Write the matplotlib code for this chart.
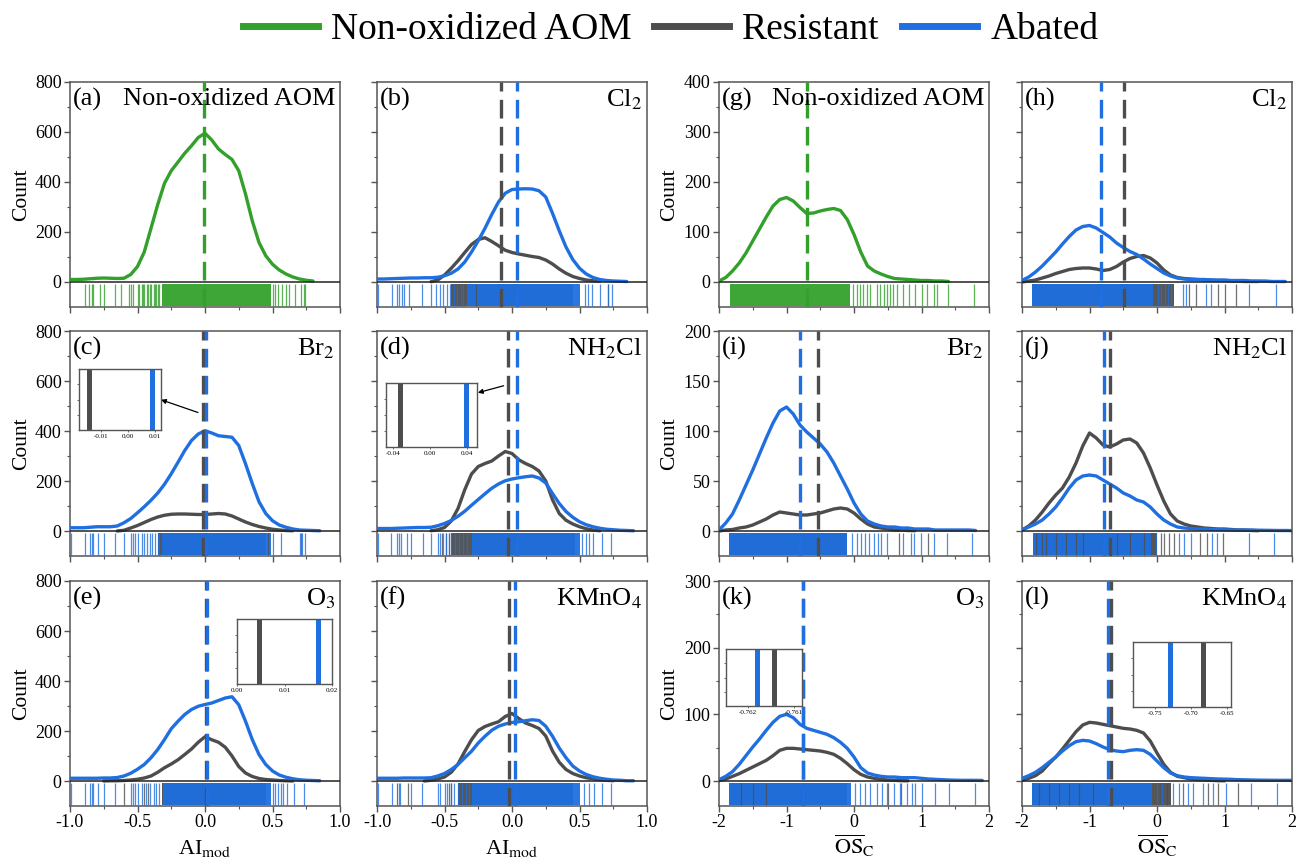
import matplotlib.pyplot as plt
from matplotlib.lines import Line2D
from matplotlib.ticker import MultipleLocator, FormatStrFormatter
import numpy as np

plt.rcParams['font.family'] = ['Liberation Serif', 'DejaVu Serif']
plt.rcParams['mathtext.fontset'] = 'stix'
plt.rcParams['axes.unicode_minus'] = False

GREEN = '#33a02c'
GRAY = '#4d4d4d'
BLUE = '#1f6fe0'
SPINE = '#555555'
N = None

# ---- x grids of the density curves ----
ai_x = [-1.0, -0.95, -0.9, -0.85, -0.8, -0.75, -0.7, -0.65, -0.6, -0.55,
        -0.5, -0.45, -0.4, -0.35, -0.3, -0.25, -0.2, -0.15, -0.1, -0.05,
        0.0, 0.05, 0.1, 0.15, 0.2, 0.25, 0.3, 0.35, 0.4, 0.45,
        0.5, 0.55, 0.6, 0.65, 0.7, 0.75, 0.8, 0.85, 0.9]
os_x = [-2.0, -1.9, -1.8, -1.7, -1.6, -1.5, -1.4, -1.3, -1.2, -1.1,
        -1.0, -0.9, -0.8, -0.7, -0.6, -0.5, -0.4, -0.3, -0.2, -0.1,
        0.0, 0.1, 0.2, 0.3, 0.4, 0.5, 0.6, 0.7, 0.8, 0.9,
        1.0, 1.1, 1.2, 1.3, 1.4, 1.5, 1.6, 1.7, 1.8, 1.9, 2.0]

# ---- AImod counts ----
a_aom = [10, 10, 11, 13, 15, 16, 15, 14, 15, 30, 62, 120, 215, 310, 395, 445, 480, 515, 545, 578,
         595, 568, 532, 510, 490, 445, 352, 245, 158, 105, 71, 48, 32, 20, 12, 7, 4, N, N]
b_res = [N, N, N, N, N, N, N, N, 1, 8, 28, 55, 85, 118, 150, 170, 177, 162, 145, 127,
         118, 112, 107, 102, 98, 88, 72, 52, 35, 22, 14, 8, 5, 3, N, N, N, N, N]
b_aba = [12, 12, 13, 14, 15, 16, 16, 17, 17, 19, 25, 35, 52, 80, 120, 165, 215, 270, 320, 355,
         370, 372, 373, 372, 365, 340, 275, 205, 140, 90, 55, 32, 18, 10, 6, 4, 3, 2, N]
c_res = [N, N, N, N, N, N, N, 0, 3, 12, 22, 34, 46, 56, 63, 67, 68, 68, 67, 66,
         66, 68, 70, 68, 60, 48, 36, 26, 18, 12, 7, 4, 2, 1, N, N, N, N, N]
c_aba = [13, 13, 13, 15, 17, 17, 17, 20, 33, 50, 73, 97, 123, 152, 187, 229, 275, 322, 362, 388,
         401, 392, 381, 378, 375, 342, 269, 190, 117, 70, 41, 24, 15, 8, 4, 3, 2, 1, N]
d_res = [N, N, N, N, N, N, N, N, 1, 5, 14, 40, 90, 165, 228, 258, 270, 280, 300, 318,
         310, 285, 270, 258, 240, 200, 125, 70, 43, 28, 17, 9, 4, 1, N, N, N, N, N]
d_aba = [10, 10, 10, 11, 12, 13, 14, 14, 15, 21, 30, 42, 59, 79, 103, 126, 149, 171, 188, 201,
         208, 213, 217, 220, 212, 192, 150, 110, 78, 55, 37, 25, 17, 11, 7, 5, 3, 2, 1]
e_res = [N, N, N, N, N, 0, 1, 1, 2, 4, 7, 12, 20, 35, 53, 68, 85, 106, 128, 155,
         177, 165, 155, 135, 100, 58, 32, 18, 10, 6, 4, 2, 1, 0, N, N, N, N, N]
e_aba = [11, 11, 11, 11, 11, 12, 12, 14, 20, 31, 47, 66, 93, 126, 166, 209, 239, 266, 286, 299,
         306, 312, 322, 332, 337, 305, 239, 166, 106, 66, 40, 24, 15, 9, 5, 3, 2, 1, N]
f_res = [N, N, N, N, N, N, N, 0, 3, 8, 16, 35, 68, 118, 165, 202, 218, 228, 237, 258,
         270, 250, 232, 222, 210, 180, 120, 75, 46, 30, 20, 13, 9, 5, 3, 1, N, N, N]
f_aba = [11, 11, 11, 11, 12, 12, 12, 12, 13, 20, 30, 46, 66, 93, 119, 152, 179, 203, 219, 228,
         234, 237, 241, 245, 242, 219, 179, 132, 93, 60, 40, 26, 17, 11, 7, 4, 3, 1, 1]

# ---- OSc counts ----
g_aom = [2, 9, 22, 38, 58, 82, 106, 130, 152, 165, 169, 162, 149, 137, 138, 142, 145, 147, 143, 125,
         95, 60, 32, 22, 16, 11, 7, 6, 5, 4, 3, 3, 2, 2, 1, N, N, N, N, N, N]
h_res = [0, 2, 4, 8, 12, 17, 21, 25, 27, 28, 28, 26, 23, 25, 31, 40, 47, 51, 53, 48,
         38, 24, 14, 9, 7, 6, 5, 4, 4, 3, 3, 2, 2, 1, 1, 1, N, N, N, N, N]
h_aba = [3, 10, 20, 32, 46, 60, 76, 91, 104, 111, 113, 108, 99, 90, 78, 69, 61, 55, 46, 36,
         27, 18, 12, 8, 6, 5, 5, 5, 4, 4, 4, 3, 3, 3, 2, 2, 2, 1, 1, 1, N]
i_res = [0, 1, 1.5, 3, 4, 6, 9, 12, 16, 19, 18, 17, 16, 16, 17, 18, 20, 22, 23, 22,
         18, 12, 7, 4, 3, 2, 1, 1, 0.5, 0.3, N, N, N, N, N, N, N, N, N, N, N]
i_aba = [1, 8, 17, 31, 46, 61, 77, 93, 108, 120, 124, 117, 106, 99, 93, 87, 79, 68, 55, 42,
         28, 17, 10, 7, 5, 4, 4, 3, 3, 2, 2, 2, 1, 1, 1, 1, 1, 1, 0.5, N, N]
j_res = [1, 5, 11, 19, 28, 36, 43, 54, 68, 85, 98, 93, 86, 84, 87, 91, 92, 88, 78, 63,
         46, 30, 17, 10, 7, 5, 4, 3, 2.5, 2, 2, 1.5, 1, 1, 0.5, 0.3, N, N, N, N, N]
j_aba = [1, 4, 7, 11, 17, 24, 33, 43, 51, 55, 56, 55, 51, 47, 43, 38, 35, 31, 29, 24,
         17, 11, 7, 4, 3, 2.5, 2, 2, 1.5, 1.5, 1.2, 1, 1, 1, 1, 0.8, 0.7, 0.6, 0.5, 0.5, 0.4]
k_res = [0.5, 3, 7, 11, 16, 21, 26, 31, 38, 46, 49, 49, 48, 47, 46, 45, 43, 40, 34, 26,
         17, 10, 6, 4, 2.5, 1.5, 1, 0.5, 0.3, N, N, N, N, N, N, N, N, N, N, N, N]
k_aba = [2, 7, 14, 25, 38, 51, 63, 76, 88, 97, 100, 95, 85, 79, 76, 73, 70, 65, 58, 49,
         36, 20, 12, 9, 7, 6, 6, 5, 5, 5, 4, 3, 2.5, 2, 1.5, 1.2, 1, 1, 1, 0.8, N]
l_res = [1, 4, 8, 15, 26, 36, 48, 61, 74, 84, 88, 87, 85, 83, 81, 79, 78, 76, 72, 60,
         42, 25, 13, 7, 5, 3, 2, 1.5, 1, 0.5, 0.3, N, N, N, N, N, N, N, N, N, N]
l_aba = [4, 8, 13, 20, 28, 36, 45, 53, 59, 61, 60, 56, 51, 47, 45, 44, 46, 47, 46, 40,
         30, 20, 12, 8, 6, 5, 4.5, 4, 3.5, 3, 2.8, 2.5, 2, 1.8, 1.5, 1.3, 1.2, 1.1, 1, 1, 1]

# ---- mean values (dashed lines): resistant first, abated second ----
means = {
    'a': [-0.01], 'b': [-0.081, 0.034], 'c': [-0.0144, 0.0089], 'd': [-0.033, 0.039],
    'e': [0.0047, 0.0171], 'f': [-0.022, 0.022], 'g': [-0.69], 'h': [-0.49, -0.825],
    'i': [-0.53, -0.805], 'j': [-0.69, -0.78], 'k': [-0.76143, -0.7618], 'l': [-0.683, -0.7295],
}

# ---- rug: dense stretch and single marks ----
a_aom_span = (-0.32, 0.49)
a_aom_rug = [-0.89, -0.86, -0.84, -0.83, -0.78, -0.75, -0.67, -0.62, -0.56, -0.55, -0.53, -0.50,
             -0.49, -0.47, -0.46, -0.45, -0.43, -0.42, -0.41, -0.40, -0.38, -0.37, -0.36, -0.35,
             -0.34, 0.50, 0.52, 0.54, 0.57, 0.60, 0.62, 0.67, 0.71, 0.73, 0.74]
b_res_span, b_res_rug = (-0.45, 0.45), [-0.27, 0.71]
b_aba_span = (-0.335, 0.50)
b_aba_rug = [-0.995, -0.89, -0.85, -0.84, -0.815, -0.80, -0.76, -0.67, -0.60, -0.56, -0.53, -0.51,
             -0.48, -0.46, -0.43, -0.41, -0.38, -0.36, 0.54, 0.56, 0.59, 0.65, 0.71, 0.74]
c_res_span, c_res_rug = (-0.35, 0.45), [0.47, 0.71]
c_aba_span = (-0.32, 0.49)
c_aba_rug = [-0.995, -0.89, -0.85, -0.84, -0.83, -0.79, -0.75, -0.67, -0.60, -0.55, -0.53, -0.52,
             -0.50, -0.47, -0.45, -0.43, -0.41, -0.39, -0.37, -0.35, -0.34, 0.50, 0.56, 0.70,
             0.72, 0.74]
d_res_span, d_res_rug = (-0.45, 0.47), [-0.52, -0.49, -0.47]
d_aba_span = (-0.30, 0.50)
d_aba_rug = [-0.995, -0.895, -0.85, -0.835, -0.82, -0.78, -0.75, -0.66, -0.60, -0.55, -0.53,
             -0.51, -0.49, -0.47, -0.455, -0.42, -0.39, -0.36, -0.33, 0.52, 0.55, 0.57, 0.60,
             0.67, 0.73]
e_res_span, e_res_rug = (-0.32, 0.45), [-0.60, -0.45, -0.42]
e_aba_span = (-0.31, 0.49)
e_aba_rug = [-0.995, -0.89, -0.85, -0.84, -0.83, -0.79, -0.75, -0.67, -0.55, -0.53, -0.52,
             -0.50, -0.47, -0.44, -0.41, -0.38, -0.36, -0.34, 0.50, 0.52, 0.54, 0.56, 0.58,
             0.61, 0.66, 0.73]
f_res_span, f_res_rug = (-0.40, 0.45), [-0.85, -0.77, -0.47, -0.45]
f_aba_span = (-0.295, 0.50)
f_aba_rug = [-0.995, -0.89, -0.84, -0.83, -0.75, -0.67, -0.55, -0.53, -0.50, -0.48, -0.45,
             -0.43, -0.40, -0.37, -0.34, -0.32, 0.535, 0.57, 0.61, 0.67, 0.73]
g_aom_span = (-1.84, -0.06)
g_aom_rug = [-0.01, 0.04, 0.09, 0.14, 0.19, 0.24, 0.34, 0.39, 0.44, 0.49, 0.53, 0.58, 0.63,
             0.73, 0.81, 0.90, 1.00, 1.08, 1.18, 1.23, 1.39, 1.78]
h_res_span, h_res_rug = (-1.85, 0.25), [0.48, 0.58, 0.90, 1.00, 1.175]
h_aba_span = (-1.85, -0.06)
h_aba_rug = [0.015, 0.064, 0.114, 0.163, 0.21, 0.385, 0.435, 0.73, 0.80, 1.37, 1.77]
i_res_span, i_res_rug = (-1.85, -0.1), [0.67, 1.09]
i_aba_span = (-1.85, -0.1)
i_aba_rug = [-0.025, 0.05, 0.11, 0.17, 0.22, 0.30, 0.35, 0.40, 0.49, 0.72, 0.84, 0.89, 0.99,
             1.19, 1.38, 1.75]
j_res_span = (-1.84, 0.0)
j_res_rug = [-1.8, -1.7, -1.65, -1.5, -1.35, -1.2, -1.1, -0.6, -0.4, -0.2,
             0.06, 0.11, 0.18, 0.25, 0.64, 0.74, 0.98]
j_aba_span = (-1.84, -0.09)
j_aba_rug = [-0.015, 0.33, 0.40, 0.50, 0.81, 0.89, 1.37, 1.74]
k_res_span, k_res_rug = (-1.85, -0.1), [-1.68, -1.5, -1.3, 0.5, 0.7]
k_aba_span = (-1.85, -0.05)
k_aba_rug = [0.02, 0.09, 0.17, 0.24, 0.34, 0.41, 0.49, 0.59, 0.68, 0.78, 0.86, 0.91, 1.00,
             1.20, 1.40, 1.79]
l_res_span = (-1.85, 0.2)
l_res_rug = [-1.75, -1.6, -1.45, -1.3, -1.15, -0.95, 0.15, 0.39, 0.76, 0.90, 1.20]
l_aba_span = (-1.85, -0.07)
l_aba_rug = [0.0, 0.07, 0.24, 0.32, 0.46, 0.54, 0.68, 0.83, 1.02, 1.39, 1.78]

# ---- insets (x range and tick values) ----
inset_xlim = {'c': (-0.018, 0.0122), 'd': (-0.048, 0.051), 'e': (0.0, 0.02),
              'k': (-0.76247, -0.76082), 'l': (-0.78, -0.645)}
inset_ticks = {'c': [-0.01, 0.0, 0.01], 'd': [-0.04, 0.0, 0.04], 'e': [0.0, 0.01, 0.02],
               'k': [-0.762, -0.761], 'l': [-0.75, -0.70, -0.65]}
inset_fmt = {'c': '%.2f', 'd': '%.2f', 'e': '%.2f', 'k': '%.3f', 'l': '%.2f'}
inset_px = {'c': (79, 369, 82, 61), 'd': (386, 383, 91, 64), 'e': (237, 619, 95, 65),
            'k': (726, 649, 76, 57), 'l': (1133, 642, 98, 65)}
# arrows from the dashed lines to the inset (data coords of the panel)
arrows = {'c': ((-0.052, 474), (-0.326, 525)), 'd': ((-0.062, 581), (-0.253, 553))}

# panel: key, title, row, col, ymax, ystep, series
panels = [
    ('a', 'Non-oxidized AOM', 0, 0, 800, 200, [(GREEN, a_aom, a_aom_span, a_aom_rug)]),
    ('b', r'Cl$_2$', 0, 1, 800, 200, [(GRAY, b_res, b_res_span, b_res_rug), (BLUE, b_aba, b_aba_span, b_aba_rug)]),
    ('c', r'Br$_2$', 1, 0, 800, 200, [(GRAY, c_res, c_res_span, c_res_rug), (BLUE, c_aba, c_aba_span, c_aba_rug)]),
    ('d', r'NH$_2$Cl', 1, 1, 800, 200, [(GRAY, d_res, d_res_span, d_res_rug), (BLUE, d_aba, d_aba_span, d_aba_rug)]),
    ('e', r'O$_3$', 2, 0, 800, 200, [(GRAY, e_res, e_res_span, e_res_rug), (BLUE, e_aba, e_aba_span, e_aba_rug)]),
    ('f', r'KMnO$_4$', 2, 1, 800, 200, [(GRAY, f_res, f_res_span, f_res_rug), (BLUE, f_aba, f_aba_span, f_aba_rug)]),
    ('g', 'Non-oxidized AOM', 0, 2, 400, 100, [(GREEN, g_aom, g_aom_span, g_aom_rug)]),
    ('h', r'Cl$_2$', 0, 3, 400, 100, [(GRAY, h_res, h_res_span, h_res_rug), (BLUE, h_aba, h_aba_span, h_aba_rug)]),
    ('i', r'Br$_2$', 1, 2, 200, 50, [(GRAY, i_res, i_res_span, i_res_rug), (BLUE, i_aba, i_aba_span, i_aba_rug)]),
    ('j', r'NH$_2$Cl', 1, 3, 200, 50, [(GRAY, j_res, j_res_span, j_res_rug), (BLUE, j_aba, j_aba_span, j_aba_rug)]),
    ('k', r'O$_3$', 2, 2, 300, 100, [(GRAY, k_res, k_res_span, k_res_rug), (BLUE, k_aba, k_aba_span, k_aba_rug)]),
    ('l', r'KMnO$_4$', 2, 3, 300, 100, [(GRAY, l_res, l_res_span, l_res_rug), (BLUE, l_aba, l_aba_span, l_aba_rug)]),
]

W, H = 1300, 861
COL_LEFT = [70, 377, 719, 1022]
ROW_TOP = [82, 331, 581]
AX_W, AX_H = 270, 225


def px_rect(x0, y0, w, h):
    return [x0 / W, 1 - (y0 + h) / H, w / W, h / H]


def style_spines(ax, lw=1.1):
    for s in ax.spines.values():
        s.set_color(SPINE)
        s.set_linewidth(lw)


fig = plt.figure(figsize=(13, 8.61), dpi=100)

for key, title, row, col, ymax, ystep, series in panels:
    ax = fig.add_axes(px_rect(COL_LEFT[col], ROW_TOP[row], AX_W, AX_H))
    is_ai = col < 2
    x = np.array(ai_x if is_ai else os_x)
    ax.set_xlim(-1, 1) if is_ai else ax.set_xlim(-2, 2)
    ax.set_ylim(-ymax / 8, ymax)
    colors = [s[0] for s in series]

    for color, y, span, rug in series:
        ax.plot(x, np.array(y, dtype=float), color=color, lw=2.4, zorder=4,
                solid_joinstyle='round', solid_capstyle='round')

    lo, hi = -0.118 * ymax, -0.01 * ymax
    for color, y, span, rug in series:
        ax.fill_between(list(span), lo, hi, color=color, alpha=0.95, lw=0, zorder=2)
    for color, y, span, rug in series:
        ax.vlines(rug, lo, hi, color=color, lw=0.9, alpha=0.8, zorder=3)

    ax.axhline(0, color='#222222', lw=1.1, zorder=5)

    for m, color in zip(means[key], colors):
        ax.axvline(m, color=color, lw=2.4, dashes=(5.6, 2.5), zorder=6)

    ax.text(0.012, 0.975, '(%s)' % key, transform=ax.transAxes, ha='left', va='top',
            fontsize=19, zorder=8)
    ax.text(0.982, 0.975, title, transform=ax.transAxes, ha='right', va='top',
            fontsize=19, zorder=8)

    ax.set_yticks(np.arange(0, ymax + 1, ystep))
    ax.set_yticks(np.arange(ystep / 2, ymax, ystep), minor=True)
    if is_ai:
        ax.xaxis.set_major_locator(MultipleLocator(0.5))
        ax.xaxis.set_minor_locator(MultipleLocator(0.25))
        ax.xaxis.set_major_formatter(FormatStrFormatter('%.1f'))
    else:
        ax.xaxis.set_major_locator(MultipleLocator(1))
        ax.xaxis.set_minor_locator(MultipleLocator(0.5))
        ax.xaxis.set_major_formatter(FormatStrFormatter('%d'))
    ax.yaxis.set_major_formatter(FormatStrFormatter('%d'))
    ax.tick_params(which='major', direction='out', length=4, width=1, color=SPINE,
                   labelsize=13, pad=2)
    ax.tick_params(which='minor', direction='out', length=2, width=0.8, color=SPINE)
    style_spines(ax)

    if col in (0, 2):
        ax.set_ylabel('Count', fontsize=15.5, labelpad=3)
    else:
        ax.tick_params(labelleft=False)
    if row == 2:
        if is_ai:
            ax.set_xlabel(r'AI$_{\mathrm{mod}}$', fontsize=16, labelpad=5)
        else:
            ax.set_xlabel(r'$\overline{\mathrm{OS}}_{\mathrm{C}}$', fontsize=16, labelpad=1)
    else:
        ax.tick_params(labelbottom=False)

    if key in arrows:
        start, end = arrows[key]
        ax.annotate('', xy=end, xytext=start,
                    arrowprops=dict(arrowstyle='-|>', color='black', lw=0.9,
                                    mutation_scale=7, shrinkA=0, shrinkB=0), zorder=9)

    if key in inset_xlim:
        ins = fig.add_axes(px_rect(*inset_px[key]))
        ins.set_xlim(*inset_xlim[key])
        ins.set_ylim(0, 1)
        for m, color in zip(means[key], colors):
            ins.axvline(m, color=color, lw=3.6)
        ins.set_xticks(inset_ticks[key])
        ins.xaxis.set_major_formatter(FormatStrFormatter(inset_fmt[key]))
        ins.set_yticks([0.25, 0.5, 0.75])
        ins.tick_params(axis='y', labelleft=False, length=1.5, width=0.6, color=SPINE)
        ins.tick_params(axis='x', labelsize=5, length=1.5, width=0.6, color=SPINE, pad=1.5)
        style_spines(ins, lw=1.0)

handles = [Line2D([0], [0], color=GREEN, lw=5),
           Line2D([0], [0], color=GRAY, lw=5),
           Line2D([0], [0], color=BLUE, lw=5)]
fig.legend(handles, ['Non-oxidized AOM', 'Resistant', 'Abated'], loc='center',
           bbox_to_anchor=(0.516, 1 - 30 / H), ncol=3, frameon=False, fontsize=27,
           handlelength=2.0, handletextpad=0.35, columnspacing=0.6)

fig.savefig('out.png', dpi=100)
